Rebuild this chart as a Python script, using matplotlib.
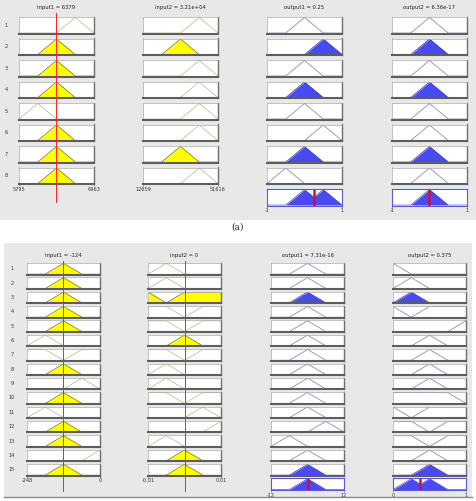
import numpy as np
import matplotlib
matplotlib.use('Agg')
import matplotlib.pyplot as plt
from matplotlib.patches import Rectangle

W, H = 477, 501
HALF = 0.25  # half width of every triangular MF (normalised range)

# ---- panel (a): 8 rules ----
titles_a = ['input1 = 6379', 'input2 = 3.21e+04', 'output1 = 0.25', 'output2 = 6.36e-17']
ticks_a = [['5795', '6963'], ['12659', '51616'], ['-1', '1'], ['-1', '1']]
in1_kind_a = ['t'] * 8
in1_c_a = [0.75, 0.5, 0.5, 0.5, 0.25, 0.5, 0.5, 0.5]
in2_kind_a = ['t'] * 8
in2_c_a = [0.75, 0.5, 0.75, 0.75, 0.75, 0.75, 0.5, 0.75]
out1_kind_a = ['t'] * 8
out1_c_a = [0.5, 0.75, 0.5, 0.5, 0.5, 0.75, 0.5, 0.25]
out2_kind_a = ['t'] * 8
out2_c_a = [0.5] * 8
inputs_a = [0.5, 0.5]
show_line_a = [True, False]
fired_a = [0, 1, 0, 1, 0, 0, 1, 0]

# ---- panel (b): 15 rules ----
titles_b = ['input1 = -124', 'input2 = 0', 'output1 = 7.31e-16', 'output2 = 0.375']
ticks_b = [['-248', '0'], ['-0.01', '0.01'], ['-12', '12'], ['0', '1']]
in1_kind_b = ['t', 't', 't', 't', 't', 't', 'n', 't', 't', 't', 't', 't', 't', 't', 't']
in1_c_b = [0.5, 0.5, 0.5, 0.5, 0.5, 0.25, 0.5, 0.5, 0.75, 0.5, 0.25, 0.5, 0.5, 1.0, 0.5]
in2_kind_b = ['t', 't', 'n', 'n', 'n', 't', 'n', 't', 't', 'n', 't', 't', 't', 't', 't']
in2_c_b = [0.25, 0.25, 0.25, 0.5, 0.5, 0.5, 0.5, 0.25, 0.25, 0.5, 0.75, 1.0, 0.25, 0.5, 0.5]
out1_kind_b = ['t'] * 15
out1_c_b = [0.5, 0.5, 0.5, 0.5, 0.5, 0.5, 0.5, 0.5, 0.5, 0.5, 0.5, 0.75, 0.25, 0.5, 0.5]
out2_kind_b = ['t', 't', 't', 'n', 't', 't', 't', 't', 't', 'n', 'n', 'n', 'n', 't', 't']
out2_c_b = [0.0, 0.25, 0.25, 0.25, 1.0, 0.5, 0.5, 0.5, 0.5, 1.0, 0.25, 0.5, 0.5, 0.5, 0.5]
inputs_b = [0.5, 0.5]
show_line_b = [True, True]
fired_b = [0, 0, 1, 0, 0, 0, 0, 0, 0, 0, 0, 0, 0, 0, 1]

BG = '#e8e8e8'
IN_LINE, IN_FILL, IN_EDGE = '#c3c39a', '#ffff00', '#6b6b20'
OUT_LINE, OUT_FILL, OUT_EDGE = '#8c8cc0', '#4a4af2', '#2a2a90'

xs = np.linspace(0, 1, 401)


def px(x, y, w, h):
    return [x / W, 1 - (y + h) / H, w / W, h / H]


def mf(kind, c, x):
    tri = np.clip(1 - np.abs(x - c) / HALF, 0, 1)
    return 1 - tri if kind == 'n' else tri


def box(ax, edge=None):
    ax.set_xlim(0, 1)
    ax.set_ylim(-0.03, 1.03)
    ax.set_xticks([])
    ax.set_yticks([])
    ax.set_facecolor('white')
    if edge:
        for s in ax.spines.values():
            s.set_color(edge)
            s.set_linewidth(0.8)
    else:
        ax.spines['top'].set_color('#a8a8a8')
        ax.spines['top'].set_linewidth(0.5)
        ax.spines['left'].set_color('#a8a8a8')
        ax.spines['left'].set_linewidth(0.5)
        ax.spines['bottom'].set_color('#5e5e5e')
        ax.spines['bottom'].set_linewidth(1.5)
        ax.spines['right'].set_color('#6e6e6e')
        ax.spines['right'].set_linewidth(1.0)


def draw_mf(ax, y, level, line, fill, edge):
    if level > 0:
        yy = np.minimum(y, level)
        ax.fill_between(xs, 0, yy, color=fill, lw=0)
        ax.plot(xs, yy, color=edge, lw=0.5)
    else:
        ax.plot(xs, y, color=line, lw=0.6)


def ticks(ax, labels):
    ax.set_xticks([0, 1])
    ax.set_xticklabels(labels, fontsize=3.6, color='#333333')
    ax.tick_params(axis='x', length=1.2, width=0.4, pad=0.8, color='#555555')


def panel(cols, col_x, col_w, row_top, step, row_h, num_x, line_span,
          titles, tick_labels, inputs, show_line, fired, title_pad):
    n = len(fired)
    agg = [np.zeros_like(xs), np.zeros_like(xs)]
    for j, (kinds, cents) in enumerate(cols):
        for i in range(n):
            ax = fig.add_axes(px(col_x[j], row_top + i * step, col_w, row_h))
            box(ax)
            y = mf(kinds[i], cents[i], xs)
            if j < 2:
                level = float(mf(kinds[i], cents[i], np.array(inputs[j])))
                draw_mf(ax, y, level, IN_LINE, IN_FILL, IN_EDGE)
            else:
                level = fired[i]
                draw_mf(ax, y, level, OUT_LINE, OUT_FILL, OUT_EDGE)
                agg[j - 2] = np.maximum(agg[j - 2], np.minimum(y, level))
            if i == 0:
                ax.set_title(titles[j], fontsize=3.8, pad=title_pad, color='#222222')
            if j < 2 and i == n - 1:
                ticks(ax, tick_labels[j])
            if j == 0:
                fig.text(num_x / W, 1 - (row_top + i * step + row_h / 2) / H,
                         str(i + 1), fontsize=3.6, ha='center', va='center',
                         color='#333333')
        if j < 2 and show_line[j]:
            ov = fig.add_axes(px(col_x[j], line_span[0], col_w,
                                 line_span[1] - line_span[0]))
            ov.set_xlim(0, 1)
            ov.axis('off')
            ov.patch.set_alpha(0)
            ov.set_zorder(10)
            ov.axvline(inputs[j], color='#ff2020', lw=0.7)
    for k in range(2):
        ax = fig.add_axes(px(col_x[k + 2], row_top + n * step, col_w, row_h))
        box(ax, edge='#5a5ad6')
        ax.fill_between(xs, 0, agg[k], color=OUT_FILL, lw=0)
        ax.plot(xs, agg[k], color=OUT_EDGE, lw=0.4)
        cen = np.sum(xs * agg[k]) / np.sum(agg[k])
        ax.axvline(cen, color='#d0103a', lw=1.8)
        ticks(ax, tick_labels[k + 2])


fig = plt.figure(figsize=(W / 100, H / 100), dpi=100)
fig.patch.set_facecolor('white')
fig.add_artist(Rectangle((0, 1 - 220 / H), 1, 220 / H, transform=fig.transFigure,
                         facecolor=BG, edgecolor='none', zorder=-5))
fig.add_artist(Rectangle((4 / W, 1 - 497 / H), 468 / W, 254 / H,
                         transform=fig.transFigure, facecolor=BG,
                         edgecolor='none', zorder=-5))
fig.add_artist(plt.Line2D([4 / W, 472 / W], [1 - 497 / H, 1 - 497 / H],
                          transform=fig.transFigure, color='#8a8a8a', lw=1.0))

panel([(in1_kind_a, in1_c_a), (in2_kind_a, in2_c_a),
       (out1_kind_a, out1_c_a), (out2_kind_a, out2_c_a)],
      [19, 143, 267, 392], 75, 17, 21.5, 16.5, 6, (13, 203),
      titles_a, ticks_a, inputs_a, show_line_a, fired_a, 5.5)

panel([(in1_kind_b, in1_c_b), (in2_kind_b, in2_c_b),
       (out1_kind_b, out1_c_b), (out2_kind_b, out2_c_b)],
      [27, 148, 271, 393], 73, 263, 14.36, 11.5, 12, (261, 492),
      titles_b, ticks_b, inputs_b, show_line_b, fired_b, 4.5)

fig.text(238 / W, 1 - 227 / H, '(a)', fontsize=6.5, family='DejaVu Serif',
         ha='center', va='center', color='#222222')

fig.savefig('out.png', dpi=100, facecolor='white')
